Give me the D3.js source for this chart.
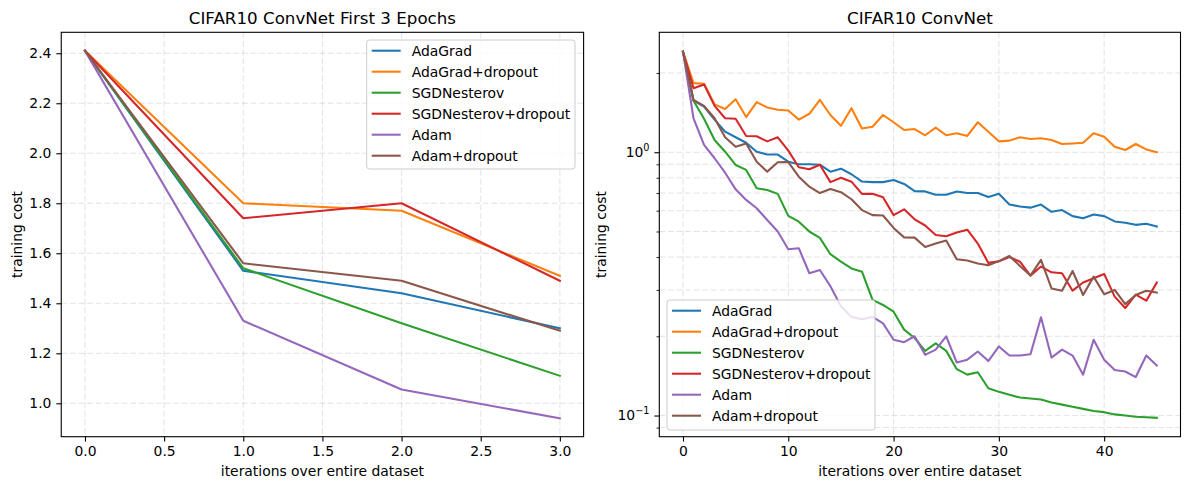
<!DOCTYPE html>
<html>
<head>
<meta charset="utf-8">
<script src="https://cdn.jsdelivr.net/npm/d3@7"></script>
<style>
body { margin: 0; background: #fff; }
text { font-family: "DejaVu Sans", sans-serif; fill: #000; }
</style>
</head>
<body>
<div class="chart"></div>
<script>
var svgWidth = 1189;
var svgHeight = 490;

var names = ["AdaGrad", "AdaGrad+dropout", "SGDNesterov", "SGDNesterov+dropout", "Adam", "Adam+dropout"];
var colors = ["#1f77b4", "#ff7f0e", "#2ca02c", "#d62728", "#9467bd", "#8c564b"];

// left panel: first 3 epochs
var epochs = [0, 1, 2, 3];
var firstAdaGrad     = [2.41, 1.53, 1.44, 1.30];
var firstAdaGradDrop = [2.41, 1.80, 1.77, 1.51];
var firstSGD         = [2.41, 1.54, 1.32, 1.11];
var firstSGDDrop     = [2.41, 1.74, 1.80, 1.49];
var firstAdam        = [2.41, 1.33, 1.055, 0.94];
var firstAdamDrop    = [2.41, 1.56, 1.49, 1.29];

// right panel: 0..45 iterations
var iterations = [0,1,2,3,4,5,6,7,8,9,10,11,12,13,14,15,16,17,18,19,20,21,22,23,24,25,26,27,28,29,30,31,32,33,34,35,36,37,38,39,40,41,42,43,44,45];
var adaGrad = [2.41,1.57,1.49,1.33,1.197,1.14,1.087,1.005,0.98,0.98,
  0.921,0.90,0.90,0.897,0.844,0.866,0.825,0.774,0.77,0.77,
  0.785,0.758,0.712,0.71,0.69,0.69,0.71,0.70,0.70,0.676,
  0.695,0.633,0.622,0.616,0.633,0.594,0.603,0.572,0.561,0.58,
  0.572,0.546,0.54,0.53,0.535,0.522];
var adaGradDrop = [2.41,1.83,1.82,1.52,1.46,1.59,1.36,1.55,1.48,1.45,
  1.44,1.33,1.40,1.58,1.385,1.26,1.47,1.23,1.25,1.385,
  1.30,1.215,1.225,1.16,1.24,1.16,1.18,1.153,1.30,1.197,
  1.10,1.107,1.14,1.123,1.13,1.113,1.075,1.08,1.087,1.18,
  1.146,1.05,1.02,1.075,1.025,1.0];
var sgdNesterov = [2.41,1.57,1.34,1.113,1.005,0.895,0.857,0.73,0.719,0.695,
  0.573,0.545,0.50,0.473,0.41,0.384,0.362,0.352,0.275,0.263,
  0.248,0.212,0.197,0.176,0.188,0.176,0.15,0.143,0.146,0.127,
  0.123,0.12,0.117,0.116,0.115,0.112,0.11,0.108,0.106,0.104,
  0.103,0.101,0.100,0.099,0.0985,0.098];
var sgdNesterovDrop = [2.41,1.75,1.81,1.50,1.346,1.34,1.153,1.15,1.10,1.14,
  1.014,0.877,0.862,0.897,0.77,0.80,0.773,0.695,0.695,0.675,
  0.577,0.607,0.556,0.527,0.485,0.48,0.496,0.508,0.45,0.38,
  0.385,0.40,0.384,0.34,0.368,0.35,0.347,0.298,0.32,0.332,
  0.345,0.283,0.256,0.288,0.273,0.32];
var adam = [2.41,1.346,1.066,0.949,0.836,0.723,0.659,0.613,0.553,0.50,
  0.428,0.432,0.347,0.357,0.31,0.26,0.237,0.232,0.237,0.224,
  0.194,0.19,0.20,0.170,0.178,0.20,0.159,0.163,0.175,0.161,
  0.183,0.169,0.169,0.171,0.236,0.166,0.178,0.169,0.143,0.194,
  0.163,0.149,0.147,0.14,0.169,0.155];
var adamDrop = [2.41,1.58,1.50,1.346,1.14,1.05,1.08,0.92,0.844,0.916,
  0.918,0.808,0.74,0.70,0.725,0.705,0.663,0.603,0.577,0.575,
  0.516,0.475,0.474,0.437,0.45,0.462,0.392,0.388,0.378,0.372,
  0.386,0.404,0.37,0.34,0.39,0.304,0.298,0.354,0.287,0.337,
  0.289,0.30,0.265,0.287,0.298,0.293];

// ticks
var leftXTicks = [0, 0.5, 1.0, 1.5, 2.0, 2.5, 3.0];
var leftYTicks = [1.0, 1.2, 1.4, 1.6, 1.8, 2.0, 2.2, 2.4];
var rightXTicks = [0, 10, 20, 30, 40];
var rightYMajor = [0.1, 1];
var rightYMajorExp = ["\u22121", "0"];
var rightYMinor = [0.09, 0.2, 0.3, 0.4, 0.5, 0.6, 0.7, 0.8, 0.9, 2];

var leftSeries = [firstAdaGrad, firstAdaGradDrop, firstSGD, firstSGDDrop, firstAdam, firstAdamDrop];
var rightSeries = [adaGrad, adaGradDrop, sgdNesterov, sgdNesterovDrop, adam, adamDrop];

var plotTop = 32.3, plotBottom = 436.7;

var svg = d3.select(".chart")
  .append("svg")
  .attr("width", svgWidth)
  .attr("height", svgHeight);

svg.append("rect").attr("width", svgWidth).attr("height", svgHeight).attr("fill", "#fff");

/*********************** scales ***********************/
var xLeft = d3.scaleLinear().domain([-0.15, 3.15]).range([61.25, 583.6]);
var yLeft = d3.scaleLinear().domain([0.8664, 2.4838]).range([plotBottom, plotTop]);
var xRight = d3.scaleLinear().domain([-2.25, 47.25]).range([659.3, 1180.5]);
var yRight = d3.scaleLog().domain([0.0831, 2.855]).range([plotBottom, plotTop]);

/*********************** functions ***********************/
function drawGrid(g, xs, ys, xt, yt) {
  var grid = g.append("g").attr("class", "grid")
    .attr("stroke", "#b0b0b0").attr("stroke-opacity", 0.45)
    .attr("stroke-width", 0.8).attr("stroke-dasharray", "6,2.6");
  grid.selectAll(".gx").data(xt).join("line")
    .attr("x1", d => xs(d)).attr("x2", d => xs(d))
    .attr("y1", plotTop).attr("y2", plotBottom);
  grid.selectAll(".gy").data(yt).join("line")
    .attr("y1", d => ys(d)).attr("y2", d => ys(d))
    .attr("x1", xs.range()[0]).attr("x2", xs.range()[1]);
}

function drawLines(g, xs, ys, xvals, series) {
  var line = d3.line().x((d, i) => xs(xvals[i])).y(d => ys(d));
  series.forEach(function(s, k) {
    g.append("path")
      .datum(s)
      .attr("d", line)
      .attr("fill", "none")
      .attr("stroke", colors[k])
      .attr("stroke-width", 2.08)
      .attr("stroke-linejoin", "round")
      .attr("stroke-linecap", "square");
  });
}

function styleAxis(a) {
  a.select(".domain").remove();
  a.selectAll("line").attr("stroke", "#000").attr("stroke-width", 1.1);
  a.selectAll("text").attr("font-size", "13.9px").attr("font-family", "DejaVu Sans").attr("fill", "#000");
}

function drawFrame(g, xs) {
  var r = xs.range();
  g.append("rect")
    .attr("x", r[0]).attr("y", plotTop)
    .attr("width", r[1] - r[0]).attr("height", plotBottom - plotTop)
    .attr("fill", "none").attr("stroke", "#000").attr("stroke-width", 1.1);
}

function drawLabels(g, xs, title, ylabelX) {
  var cx = (xs.range()[0] + xs.range()[1]) / 2;
  g.append("text").attr("x", cx).attr("y", 24)
    .attr("text-anchor", "middle").attr("font-size", "16.7px").text(title);
  g.append("text").attr("x", cx).attr("y", 476)
    .attr("text-anchor", "middle").attr("font-size", "13.9px").text("iterations over entire dataset");
  g.append("text")
    .attr("transform", `translate(${ylabelX},${(plotTop + plotBottom) / 2}) rotate(-90)`)
    .attr("text-anchor", "middle").attr("font-size", "13.9px").text("training cost");
}

function drawLegend(g, x0, y0, w, h) {
  var lg = g.append("g").attr("transform", `translate(${x0},${y0})`);
  lg.append("rect").attr("width", w).attr("height", h).attr("rx", 2.8)
    .attr("fill", "#fff").attr("fill-opacity", 0.8)
    .attr("stroke", "#cccccc").attr("stroke-width", 1);
  names.forEach(function(n, k) {
    var cy = 10.7 + 21 * k;
    lg.append("line").attr("x1", 5).attr("x2", 34).attr("y1", cy).attr("y2", cy)
      .attr("stroke", colors[k]).attr("stroke-width", 2.08);
    lg.append("text").attr("x", 45).attr("y", cy + 4.9)
      .attr("font-size", "13.9px").text(n);
  });
}

/*********************** left panel ***********************/
var left = svg.append("g");
drawGrid(left, xLeft, yLeft, leftXTicks, leftYTicks);
drawLines(left, xLeft, yLeft, epochs, leftSeries);
drawFrame(left, xLeft);

var lx = left.append("g").attr("transform", `translate(0,${plotBottom})`)
  .call(d3.axisBottom(xLeft).tickValues(leftXTicks).tickSize(4.9).tickPadding(4.9).tickFormat(d3.format(".1f")));
styleAxis(lx);
var ly = left.append("g").attr("transform", `translate(${xLeft.range()[0]},0)`)
  .call(d3.axisLeft(yLeft).tickValues(leftYTicks).tickSize(4.9).tickPadding(4.9).tickFormat(d3.format(".1f")));
styleAxis(ly);

drawLegend(left, 366.7, 40, 208.3, 129);
drawLabels(left, xLeft, "CIFAR10 ConvNet First 3 Epochs", 22);

/*********************** right panel ***********************/
var right = svg.append("g");
drawGrid(right, xRight, yRight, rightXTicks, rightYMajor.concat(rightYMinor));
drawLines(right, xRight, yRight, iterations, rightSeries);
drawFrame(right, xRight);

var rx = right.append("g").attr("transform", `translate(0,${plotBottom})`)
  .call(d3.axisBottom(xRight).tickValues(rightXTicks).tickSize(4.9).tickPadding(4.9).tickFormat(d3.format("d")));
styleAxis(rx);

var ryMinor = right.append("g").attr("transform", `translate(${xRight.range()[0]},0)`)
  .call(d3.axisLeft(yRight).tickValues(rightYMinor).tickSize(2.8).tickFormat(""));
styleAxis(ryMinor);
ryMinor.selectAll("line").attr("stroke-width", 0.83);

var ry = right.append("g").attr("transform", `translate(${xRight.range()[0]},0)`)
  .call(d3.axisLeft(yRight).tickValues(rightYMajor).tickSize(4.9).tickPadding(4.9).tickFormat(""));
styleAxis(ry);
ry.selectAll("text").each(function(d, i) {
  var t = d3.select(this);
  t.append("tspan").text("10");
  t.append("tspan").attr("font-size", "9.7px").attr("dy", "-6").text(rightYMajorExp[i]);
});

drawLegend(right, 667, 300, 208, 130);
drawLabels(right, xRight, "CIFAR10 ConvNet", 606);
</script>
</body>
</html>
